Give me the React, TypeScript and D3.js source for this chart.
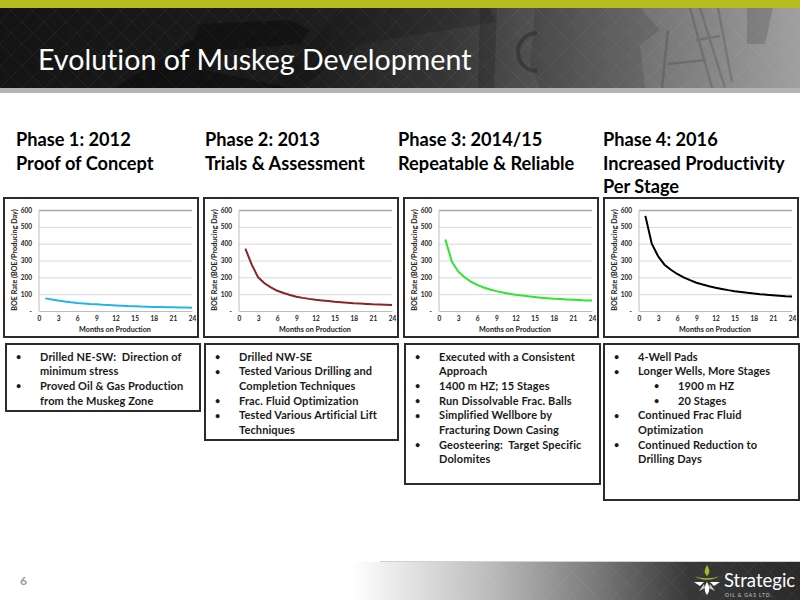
import React, { useRef, useEffect } from 'react';
import * as d3 from 'd3';

const FONT = 'Lato, "Open Sans", sans-serif';

// Months on production, one value a month
const months = d3.range(1, 25);
const phase1Rates = [75, 68, 62, 57, 52, 48, 45, 42, 40, 37, 35, 33, 31, 29, 28, 26, 25, 24, 24, 23, 22, 21, 21, 20];
const phase2Rates = [370, 275, 200, 165, 140, 120, 107, 95, 85, 78, 72, 67, 63, 59, 55, 52, 49, 46, 44, 42, 40, 39, 37, 35];
const phase3Rates = [425, 295, 235, 200, 175, 155, 140, 128, 118, 110, 103, 97, 92, 87, 83, 79, 76, 73, 71, 69, 67, 65, 63, 62];
const phase4Rates = [565, 400, 325, 275, 245, 220, 200, 183, 168, 157, 147, 138, 131, 124, 118, 113, 108, 104, 100, 97, 94, 91, 88, 86];

const xTicks = [0, 3, 6, 9, 12, 15, 18, 21, 24];
const yTicks = [0, 100, 200, 300, 400, 500, 600];

const phaseTitles = [
  ['Phase 1: 2012', 'Proof of Concept'],
  ['Phase 2: 2013', 'Trials & Assessment'],
  ['Phase 3: 2014/15', 'Repeatable & Reliable'],
  ['Phase 4: 2016', 'Increased Productivity', 'Per Stage'],
];
const phaseRates = [phase1Rates, phase2Rates, phase3Rates, phase4Rates];
const lineColors = ['#22b5e6', '#8c2328', '#2fe62f', '#000000'];

// [bullet level, text, starts a new bullet]
type Line = [number, string, boolean];
const phaseNotes: Line[][] = [
  [
    [0, 'Drilled NE-SW:  Direction of', true],
    [0, 'minimum stress', false],
    [0, 'Proved Oil & Gas Production', true],
    [0, 'from the Muskeg Zone', false],
  ],
  [
    [0, 'Drilled NW-SE', true],
    [0, 'Tested Various Drilling and', true],
    [0, 'Completion Techniques', false],
    [0, 'Frac. Fluid Optimization', true],
    [0, 'Tested Various Artificial Lift', true],
    [0, 'Techniques', false],
  ],
  [
    [0, 'Executed with a Consistent', true],
    [0, 'Approach', false],
    [0, '1400 m HZ; 15 Stages', true],
    [0, 'Run Dissolvable Frac. Balls', true],
    [0, 'Simplified Wellbore by', true],
    [0, 'Fracturing Down Casing', false],
    [0, 'Geosteering:  Target Specific', true],
    [0, 'Dolomites', false],
  ],
  [
    [0, '4-Well Pads', true],
    [0, 'Longer Wells, More Stages', true],
    [1, '1900 m HZ', true],
    [1, '20 Stages', true],
    [0, 'Continued Frac Fluid', true],
    [0, 'Optimization', false],
    [0, 'Continued Reduction to', true],
    [0, 'Drilling Days', false],
  ],
];

// layout of the four columns
const columnX = [16, 205, 398, 603];
const chartBoxX = [4, 204, 404, 604];
const noteBoxes = [
  { x: 6, w: 194, h: 67 },
  { x: 205, w: 193, h: 96 },
  { x: 405, w: 195, h: 140 },
  { x: 604, w: 195, h: 156 },
];

const App = () => {
  const svgRef = useRef<SVGSVGElement>(null);

  useEffect(() => {
    if (!svgRef.current) return;
    const svg = d3.select(svgRef.current);
    svg.selectAll('*').remove();
    svg.attr('width', 800).attr('height', 600)
      .style('font-family', FONT)
      .style('font-variant-ligatures', 'none');

    const defs = svg.append('defs');

    // diagonal lattice on the dark bands
    const lattice = defs.append('pattern')
      .attr('id', 'lattice')
      .attr('width', 22)
      .attr('height', 22)
      .attr('patternUnits', 'userSpaceOnUse');
    lattice.append('path')
      .attr('d', 'M0 0L22 22M22 0L0 22')
      .attr('stroke', '#ffffff')
      .attr('stroke-opacity', 0.05)
      .attr('stroke-width', 1);

    const headGrad = defs.append('linearGradient').attr('id', 'headGrad');
    headGrad.append('stop').attr('offset', '0%').attr('stop-color', '#141414');
    headGrad.append('stop').attr('offset', '38%').attr('stop-color', '#1c1c1c');
    headGrad.append('stop').attr('offset', '56%').attr('stop-color', '#363636');
    headGrad.append('stop').attr('offset', '75%').attr('stop-color', '#666666');
    headGrad.append('stop').attr('offset', '100%').attr('stop-color', '#a0a0a0');

    const footGrad = defs.append('linearGradient').attr('id', 'footGrad');
    footGrad.append('stop').attr('offset', '44%').attr('stop-color', '#ffffff');
    footGrad.append('stop').attr('offset', '62%').attr('stop-color', '#b8b8b8');
    footGrad.append('stop').attr('offset', '75%').attr('stop-color', '#777777');
    footGrad.append('stop').attr('offset', '86%').attr('stop-color', '#383838');
    footGrad.append('stop').attr('offset', '100%').attr('stop-color', '#2a2a2a');

    // Header
    svg.append('rect').attr('width', 800).attr('height', 600).attr('fill', '#ffffff');
    svg.append('rect').attr('width', 800).attr('height', 8).attr('fill', '#b5bd1f');
    svg.append('rect').attr('y', 8).attr('width', 800).attr('height', 80).attr('fill', 'url(#headGrad)');
    svg.append('rect').attr('y', 8).attr('width', 800).attr('height', 80).attr('fill', 'url(#lattice)');

    // Pumpjack silhouette behind the title
    const jack = svg.append('g').attr('fill', '#000000');
    jack.append('path').attr('fill-opacity', 0.3)
      .attr('d', 'M115 88L195 38L200 24L290 20L310 30L300 44L225 50L205 70L290 88Z');
    jack.append('path').attr('fill-opacity', 0.14)
      .attr('d', 'M340 8L490 8L495 22L360 44L300 88L270 88Z');
    jack.append('path').attr('fill-opacity', 0.16)
      .attr('d', 'M480 8L497 8L494 88L478 88Z');
    jack.append('path').attr('fill-opacity', 0.1)
      .attr('d', 'M535 8L640 8L660 30L640 45L645 88L540 88L530 65L532 42Z');
    jack.append('path').attr('fill-opacity', 0.14)
      .attr('d', 'M747 8L773 8L765 44L747 44Z');
    svg.append('path')
      .attr('d', 'M668 30L662 88M690 8L712 88M700 8L725 88M718 8L732 82M696 40L720 36M668 64L706 60')
      .attr('fill', 'none')
      .attr('stroke', '#000000')
      .attr('stroke-opacity', 0.14)
      .attr('stroke-width', 2.5);
    svg.append('path')
      .attr('d', 'M537 33A18 18 0 0 0 537 71')
      .attr('fill', 'none')
      .attr('stroke', '#1e1e1e')
      .attr('stroke-opacity', 0.4)
      .attr('stroke-width', 4);

    svg.append('rect').attr('y', 88).attr('width', 800).attr('height', 5).attr('fill', '#b4b4b4');

    svg.append('text')
      .attr('x', 38)
      .attr('y', 70)
      .attr('fill', '#ffffff')
      .style('font-size', '28.6px')
      .text('Evolution of Muskeg Development');

    // Phase headings
    phaseTitles.forEach((lines, i) => {
      lines.forEach((line, j) => {
        svg.append('text')
          .attr('x', columnX[i])
          .attr('y', 146 + j * 23.5)
          .attr('fill', '#000000')
          .style('font-size', '18.2px')
          .style('font-weight', 700)
          .text(line);
      });
    });

    // One chart per phase
    phaseRates.forEach((rates, i) => {
      const boxX = chartBoxX[i];
      const g = svg.append('g').attr('transform', `translate(${boxX},198)`);

      g.append('rect')
        .attr('width', 194)
        .attr('height', 139)
        .attr('fill', '#ffffff')
        .attr('stroke', '#2b2b2b')
        .attr('stroke-width', 2);

      const xScale = d3.scaleLinear().domain([0, 24]).range([35, 188]);
      const yScale = d3.scaleLinear().domain([0, 600]).range([113, 12]);

      const yAxis = d3.axisLeft(yScale)
        .tickValues(yTicks)
        .tickSize(-153)
        .tickPadding(7)
        .tickFormat(d => (d === 0 ? '-' : String(d)));
      const yG = g.append('g').attr('transform', 'translate(35,0)').call(yAxis);
      yG.select('.domain').remove();
      yG.selectAll('line')
        .attr('stroke', (d: any) => (d === 600 ? '#a6a6a6' : '#d9d9d9'))
        .attr('stroke-width', (d: any) => (d === 600 ? 1.5 : 1));
      yG.selectAll('text')
        .style('font-family', FONT)
        .style('font-size', '6.5px')
        .style('font-weight', 700)
        .attr('fill', '#222222');

      const xAxis = d3.axisBottom(xScale)
        .tickValues(xTicks)
        .tickSize(0)
        .tickPadding(5)
        .tickFormat(d => String(d));
      const xG = g.append('g').attr('transform', 'translate(0,113)').call(xAxis);
      xG.select('.domain').attr('stroke', '#bdbdbd');
      xG.selectAll('text')
        .style('font-family', FONT)
        .style('font-size', '6.5px')
        .style('font-weight', 700)
        .attr('fill', '#222222');

      g.append('line')
        .attr('x1', 35).attr('x2', 35)
        .attr('y1', 12).attr('y2', 113)
        .attr('stroke', '#bdbdbd');

      const line = d3.line<number>()
        .x((_, k) => xScale(months[k]))
        .y(d => yScale(d));
      g.append('path')
        .datum(rates)
        .attr('d', line)
        .attr('fill', 'none')
        .attr('stroke', lineColors[i])
        .attr('stroke-width', 2);

      g.append('text')
        .attr('x', 111)
        .attr('y', 133.5)
        .attr('text-anchor', 'middle')
        .attr('fill', '#222222')
        .style('font-size', '7.2px')
        .style('font-weight', 700)
        .text('Months on Production');

      g.append('text')
        .attr('transform', 'translate(13,62) rotate(-90)')
        .attr('text-anchor', 'middle')
        .attr('fill', '#222222')
        .style('font-size', '7.2px')
        .style('font-weight', 700)
        .text('BOE Rate (BOE/Producing Day)');
    });

    // Notes under the charts
    phaseNotes.forEach((notes, i) => {
      const box = noteBoxes[i];
      svg.append('rect')
        .attr('x', box.x)
        .attr('y', 344)
        .attr('width', box.w)
        .attr('height', box.h)
        .attr('fill', '#ffffff')
        .attr('stroke', '#2b2b2b')
        .attr('stroke-width', 2);

      notes.forEach(([level, text, bullet], j) => {
        const y = 360.5 + j * 14.7;
        const indent = level * 40;
        if (bullet) {
          svg.append('text')
            .attr('x', box.x + 10 + indent)
            .attr('y', y - 0.5)
            .attr('fill', '#1a1a1a')
            .style('font-size', '9px')
            .style('font-weight', 700)
            .text('•');
        }
        svg.append('text')
          .attr('x', box.x + 34 + indent)
          .attr('y', y)
          .attr('fill', '#1a1a1a')
          .style('font-size', '11px')
          .style('font-weight', 700)
          .style('letter-spacing', '0.12px')
          .style('white-space', 'pre')
          .text(text);
      });
    });

    // Footer
    svg.append('rect').attr('y', 562).attr('width', 800).attr('height', 38).attr('fill', 'url(#footGrad)');
    svg.append('rect').attr('y', 562).attr('width', 800).attr('height', 38).attr('fill', 'url(#lattice)');
    svg.append('rect').attr('x', 380).attr('y', 561).attr('width', 420).attr('height', 1).attr('fill', '#d0d0d0');

    svg.append('text')
      .attr('x', 20)
      .attr('y', 585)
      .attr('fill', '#9a9a9a')
      .style('font-size', '12px')
      .style('font-weight', 700)
      .text('6');

    // Logo mark
    const logo = svg.append('g').attr('transform', 'translate(707,581)');
    logo.append('path').attr('d', 'M0 -16C-3 -11 -3 -8 0 -5C3 -8 3 -11 0 -16Z').attr('fill', '#a9b82a');
    logo.append('path').attr('d', 'M-12 -5C-7 -2 7 -2 12 -5C7 0 -7 0 -12 -5Z').attr('fill', '#a9b82a');
    logo.append('path').attr('d', 'M0 1C-3 6 -3 10 0 14C3 10 3 6 0 1Z').attr('fill', '#ffffff');
    logo.append('path').attr('d', 'M-13 1L-3 1L-7 5ZM13 1L3 1L7 5Z').attr('fill', '#ffffff');
    logo.append('path').attr('d', 'M-3 3L-8 10L-2 7ZM3 3L8 10L2 7Z').attr('fill', '#cfcfcf');

    svg.append('text')
      .attr('x', 724)
      .attr('y', 587)
      .attr('fill', '#ffffff')
      .style('font-size', '18.5px')
      .text('Strategic');
    svg.append('text')
      .attr('x', 725)
      .attr('y', 596.5)
      .attr('fill', '#d0d0d0')
      .style('font-size', '5px')
      .style('letter-spacing', '0.9px')
      .text('OIL & GAS LTD.');
  }, []);

  return <svg ref={svgRef} style={{ position: 'absolute', left: 0, top: 0, display: 'block' }} />;
};

export default App;
